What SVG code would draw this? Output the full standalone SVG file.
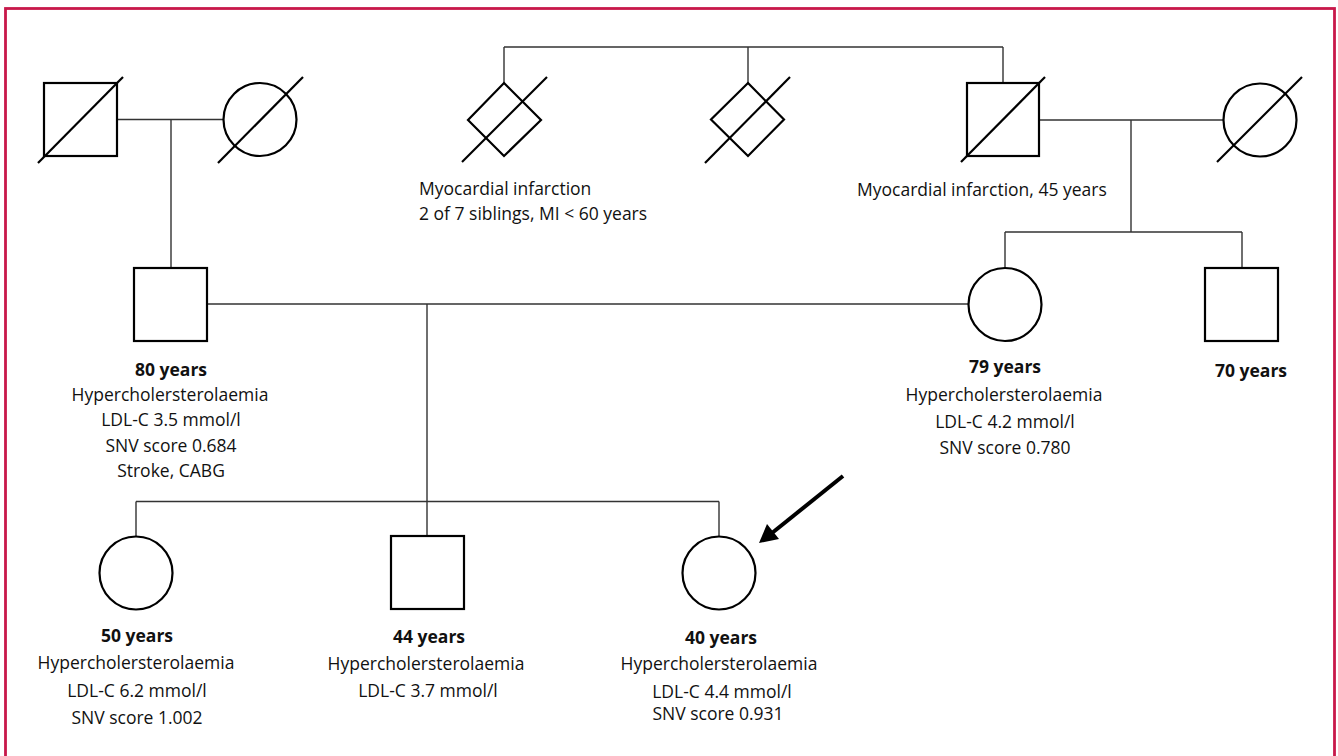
<svg xmlns="http://www.w3.org/2000/svg" width="1338" height="756" viewBox="0 0 1338 756">
<style>
.n{fill:#fff;stroke:#000;stroke-width:2.2}
.s{stroke:#000;stroke-width:2.2;fill:none}
.c{stroke:#333;stroke-width:1.4;fill:none}
text{font-family:"Open Sans","Noto Sans","Liberation Sans",sans-serif;font-size:17.5px;fill:#111}
.m{text-anchor:middle}
.b{font-weight:bold}
</style>
<rect x="0" y="0" width="1338" height="756" fill="#fff"/>
<rect x="5.5" y="8.5" width="1329" height="760" fill="none" stroke="#c8184a" stroke-width="2.8"/>
<g id="connectors">
<path class="c" d="M117 119.5H224M171 119.5V268"/>
<path class="c" d="M504 47H1003M504 47V83M748 47V83M1003 47V83"/>
<path class="c" d="M1039 120H1223M1131 120V232M1005 232H1242M1005 232V268M1242 232V268"/>
<path class="c" d="M207 304H968M427 304V536M136 501.5H719M136 501.5V537M719 501.5V537"/>
</g>
<g id="gf1"><rect class="n" x="44" y="83" width="73" height="73"/><line class="s" x1="38" y1="163" x2="123" y2="77"/></g>
<g id="gm1"><circle class="n" cx="260" cy="119.5" r="36.5"/><line class="s" x1="218" y1="163" x2="303" y2="77"/></g>
<g id="sib1"><path class="n" d="M504 83L541 120L504 156L468 120Z"/><line class="s" x1="462" y1="162" x2="547" y2="77"/>
<text x="419" y="195">Myocardial infarction</text><text x="419" y="220">2 of 7 siblings, MI &lt; 60 years</text></g>
<g id="sib2"><path class="n" d="M748 83L784 119.5L748 156L711 119.5Z"/><line class="s" x1="705" y1="163" x2="790" y2="77"/></g>
<g id="gf2"><rect class="n" x="967" y="83" width="72" height="73"/><line class="s" x1="961" y1="162" x2="1045" y2="77"/>
<text x="857" y="196">Myocardial infarction, 45 years</text></g>
<g id="gm2"><circle class="n" cx="1260" cy="120" r="36.5"/><line class="s" x1="1217" y1="162" x2="1302" y2="77"/></g>
<g id="father"><rect class="n" x="134" y="268" width="73" height="73"/>
<text class="m b" x="171" y="376">80 years</text>
<text class="m" x="170" y="401">Hypercholersterolaemia</text>
<text class="m" x="171" y="426">LDL-C 3.5 mmol/l</text>
<text class="m" x="171" y="452">SNV score 0.684</text>
<text class="m" x="171" y="477">Stroke, CABG</text></g>
<g id="mother"><circle class="n" cx="1005" cy="304.5" r="36.5"/>
<text class="m b" x="1005" y="373">79 years</text>
<text class="m" x="1004" y="401">Hypercholersterolaemia</text>
<text class="m" x="1005" y="428">LDL-C 4.2 mmol/l</text>
<text class="m" x="1005" y="454">SNV score 0.780</text></g>
<g id="uncle"><rect class="n" x="1205" y="268" width="73" height="73"/>
<text class="m b" x="1251" y="377">70 years</text></g>
<g id="c1"><circle class="n" cx="136" cy="573" r="36.5"/>
<text class="m b" x="137" y="642">50 years</text>
<text class="m" x="136" y="669">Hypercholersterolaemia</text>
<text class="m" x="137" y="697">LDL-C 6.2 mmol/l</text>
<text class="m" x="137" y="724">SNV score 1.002</text></g>
<g id="c2"><rect class="n" x="391" y="536" width="73" height="73"/>
<text class="m b" x="429" y="643">44 years</text>
<text class="m" x="426" y="670">Hypercholersterolaemia</text>
<text class="m" x="428" y="697">LDL-C 3.7 mmol/l</text></g>
<g id="proband"><circle class="n" cx="719" cy="573" r="36.5"/>
<text class="m b" x="721" y="644">40 years</text>
<text class="m" x="719" y="670">Hypercholersterolaemia</text>
<text class="m" x="722" y="698">LDL-C 4.4 mmol/l</text>
<text class="m" x="718" y="720">SNV score 0.931</text></g>
<g id="arrow"><line x1="843" y1="476" x2="772" y2="533" stroke="#000" stroke-width="4"/>
<polygon points="759,543 779,539 767,524" fill="#000"/></g>
</svg>
